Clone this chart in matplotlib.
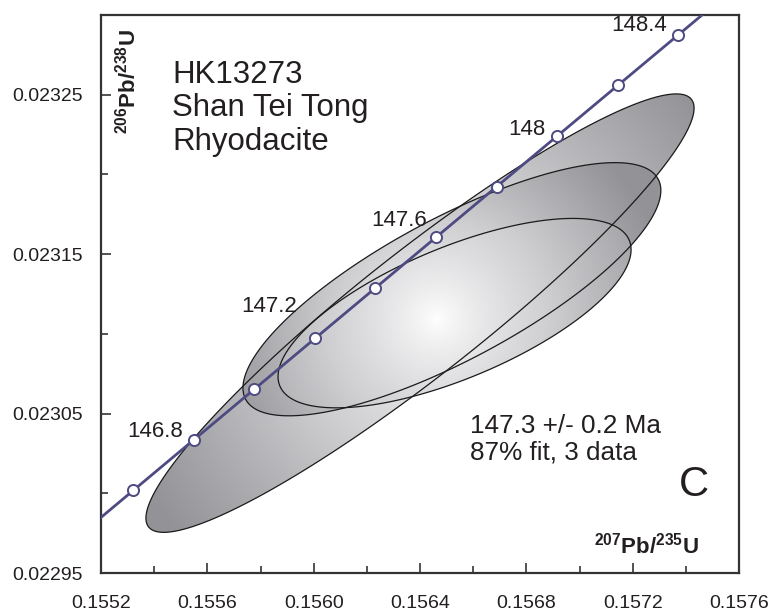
import numpy as np
import matplotlib.pyplot as plt
from matplotlib.patches import Polygon
from matplotlib.colors import LinearSegmentedColormap

plt.rcParams['font.family'] = ['Liberation Sans', 'DejaVu Sans']
plt.rcParams['mathtext.fontset'] = 'custom'
plt.rcParams['mathtext.rm'] = 'Liberation Sans'
plt.rcParams['mathtext.bf'] = 'Liberation Sans:bold'

# analyses: 207Pb/235U, 206Pb/238U, 2s half widths and error correlation
pb207_u235 = [0.15640, 0.15652, 0.15653]
pb206_u238 = [0.023113, 0.023128, 0.023113]
err_x = [0.001031, 0.000786, 0.000664]
err_y = [0.0001375, 0.0000794, 0.0000594]
rho = [0.935, 0.78, 0.67]

# concordia age marks (Ma)
ages = [146.6, 146.8, 147.0, 147.2, 147.4, 147.6, 147.8, 148.0, 148.2, 148.4]
age_labels = ['146.8', '147.2', '147.6', '148', '148.4']
label_ages = [146.8, 147.2, 147.6, 148.0, 148.4]

xticks = [0.1552, 0.1556, 0.1560, 0.1564, 0.1568, 0.1572, 0.1576]
xticklabels = ['0.1552', '0.1556', '0.1560', '0.1564', '0.1568', '0.1572', '0.1576']
yticks = [0.02295, 0.02305, 0.02315, 0.02325]
yticklabels = ['0.02295', '0.02305', '0.02315', '0.02325']

lam238 = 1.55125e-4  # per Ma
lam235 = 9.8485e-4

def concordia(t):
    t = np.asarray(t, dtype=float)
    return np.exp(lam235 * t) - 1, np.exp(lam238 * t) - 1

txtc = '#231f20'
linec = '#4d4b82'

fig = plt.figure(figsize=(7.72, 6.15), dpi=100)
ax = fig.add_axes([101 / 772, 42 / 615, 638 / 772, 558 / 615])
xmin, xmax = 0.1552, 0.1576
ymin, ymax = 0.02295, 0.0233
ax.set_xlim(xmin, xmax)
ax.set_ylim(ymin, ymax)

# radial grey fill, one per ellipse, all around the same highlight
gx, gy = 0.156464, 0.0231094
grad_r = [340, 235, 265]  # px
xs = np.linspace(xmin, xmax, 500)
ys = np.linspace(ymin, ymax, 440)
XX, YY = np.meshgrid(xs, ys)
sx = 638 / (xmax - xmin)
sy = 558 / (ymax - ymin)
dist = np.hypot((XX - gx) * sx, (YY - gy) * sy)
cmap = LinearSegmentedColormap.from_list('g', ['#ffffff', '#cfcfd2', '#939397'])

th = np.linspace(0, 2 * np.pi, 400)
polys = []
for cx, cy, ex, ey, rh in zip(pb207_u235, pb206_u238, err_x, err_y, rho):
    px = cx + ex * np.cos(th)
    py = cy + ey * (rh * np.cos(th) + np.sqrt(1 - rh ** 2) * np.sin(th))
    polys.append(np.column_stack([px, py]))

for pts, R in zip(polys, grad_r):
    patch = Polygon(pts, closed=True, facecolor='none', edgecolor='none')
    ax.add_patch(patch)
    img = np.clip(dist / R, 0, 1) ** 0.8
    im = ax.imshow(img, extent=(xmin, xmax, ymin, ymax), origin='lower',
                   aspect='auto', cmap=cmap, vmin=0, vmax=1, zorder=1,
                   interpolation='bilinear')
    im.set_clip_path(patch)

for pts in polys:
    ax.add_patch(Polygon(pts, closed=True, facecolor='none',
                         edgecolor='#1a1a1a', lw=0.9, zorder=2))

# concordia curve
tt = np.linspace(146.3, 148.7, 200)
cxs, cys = concordia(tt)
ax.plot(cxs, cys, color=linec, lw=2.0, zorder=3)
mx, my = concordia(ages)
ax.plot(mx, my, 'o', ms=8, mfc='white', mec=linec, mew=1.4, zorder=4)

offsets = [(-11, 8), (-18, 32), (-9, 17), (-12, 7), (-11, 9)]
lx, ly = concordia(label_ages)
for lab, x, y, (dx, dy) in zip(age_labels, lx, ly, offsets):
    ax.annotate(lab, (x, y), xytext=(dx * 0.72, dy * 0.72),
                textcoords='offset points', ha='right', va='center',
                fontsize=16, color=txtc, zorder=5)

ax.text(0.112, 0.92, 'HK13273\nShan Tei Tong\nRhyodacite', transform=ax.transAxes,
        ha='left', va='top', fontsize=22.5, color=txtc, linespacing=1.15)
ax.text(0.578, 0.285, '147.3 +/- 0.2 Ma\n87% fit, 3 data', transform=ax.transAxes,
        ha='left', va='top', fontsize=18.8, color=txtc, linespacing=1.14)
ax.text(0.929, 0.158, 'C', transform=ax.transAxes, ha='center', va='center',
        fontsize=30, color=txtc)
ax.text(0.937, 0.05, r'$\mathbf{^{207}Pb/^{235}U}$', transform=ax.transAxes,
        ha='right', va='center', fontsize=16, color=txtc)
ax.text(0.041, 0.88, r'$\mathbf{^{206}Pb/^{238}U}$', transform=ax.transAxes,
        ha='center', va='center', rotation=90, fontsize=16, color=txtc)

ax.set_xticks(xticks)
ax.set_xticklabels(xticklabels)
ax.set_xticks([0.1554, 0.1558, 0.1562, 0.1566, 0.1570, 0.1574], minor=True)
ax.set_yticks(yticks)
ax.set_yticklabels(yticklabels)
ax.set_yticks([0.0230, 0.0231, 0.0232, 0.0233], minor=True)
ax.tick_params(which='both', direction='in', colors='#333333', labelcolor=txtc,
               labelsize=14, width=1.2)
ax.tick_params(which='major', length=7)
ax.tick_params(which='minor', length=5)
ax.tick_params(axis='x', pad=16)
ax.tick_params(axis='y', pad=13)
for s in ax.spines.values():
    s.set_color('#333333')
    s.set_linewidth(1.6)

fig.savefig('out.png', dpi=100)
